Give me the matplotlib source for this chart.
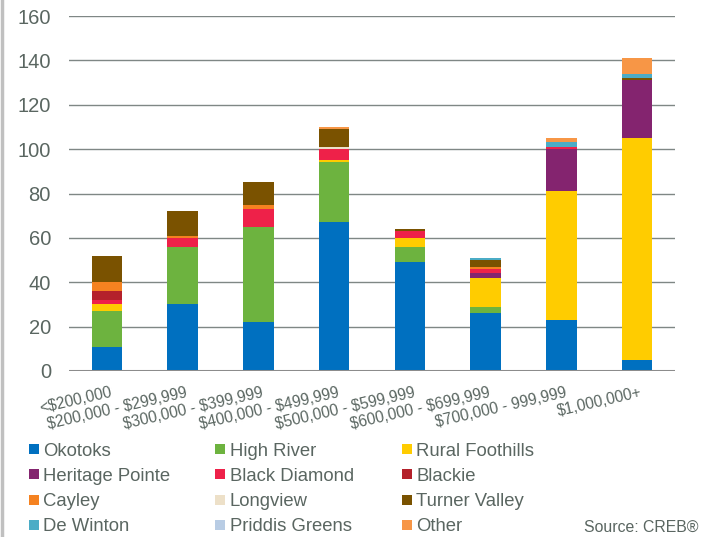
import numpy as np
import matplotlib
matplotlib.use("Agg")
import matplotlib.pyplot as plt
from matplotlib.patches import Rectangle
from matplotlib.lines import Line2D
import matplotlib.transforms as mtransforms

plt.rcParams['font.family'] = ['Liberation Sans', 'DejaVu Sans']

categories = ["<$200,000", "$200,000 - $299,999", "$300,000 - $399,999",
              "$400,000 - $499,999", "$500,000 - $599,999", "$600,000 - $699,999",
              "$700,000 - 999,999", "$1,000,000+"]

# sales by area, one list per price band order
okotoks         = [11, 30, 22, 67, 49, 26, 23, 5]
high_river      = [16, 26, 43, 27, 7, 3, 0, 0]
rural_foothills = [3, 0, 0, 1, 4, 13, 58, 100]
heritage_pointe = [0, 0, 0, 0, 0, 2, 19, 26]
black_diamond   = [2, 4, 8, 5, 3, 2, 1, 0]
blackie         = [4, 0, 0, 0, 0, 0, 0, 0]
cayley          = [4, 1, 2, 0, 0, 1, 0, 0]
longview        = [0, 0, 0, 1, 0, 0, 0, 0]
turner_valley   = [12, 11, 10, 8, 1, 3, 0, 1]
de_winton       = [0, 0, 0, 0, 0, 1, 2, 2]
priddis_greens  = [0, 0, 0, 0, 0, 0, 0, 0]
other           = [0, 0, 0, 1, 0, 0, 2, 7]

series_names = ["Okotoks", "High River", "Rural Foothills", "Heritage Pointe",
                "Black Diamond", "Blackie", "Cayley", "Longview", "Turner Valley",
                "De Winton", "Priddis Greens", "Other"]
series = [okotoks, high_river, rural_foothills, heritage_pointe, black_diamond,
          blackie, cayley, longview, turner_valley, de_winton, priddis_greens, other]
colors = ["#0070c0", "#6db33f", "#ffcc00", "#84246f", "#ee2149", "#b4212b",
          "#f58220", "#ede0c8", "#7a5200", "#4bacc6", "#b8cce4", "#f79646"]

text_col = "#5a6661"
W, H = 707, 537

fig = plt.figure(figsize=(W / 100, H / 100), dpi=100)
ax = fig.add_axes([69 / W, 1 - 371 / H, (675 - 69) / W, (371 - 16) / H])

x = np.arange(len(categories))
bottom = np.zeros(len(categories))
for name, vals, c in zip(series_names, series, colors):
    vals = np.array(vals, dtype=float)
    ax.bar(x, vals, width=0.4, bottom=bottom, color=c, edgecolor="none", label=name, zorder=3)
    bottom += vals

ax.set_xlim(-0.5, len(categories) - 0.5)
ax.set_ylim(0, 160)
ax.set_yticks(np.arange(0, 161, 20))
ax.yaxis.grid(True, color="#7f8785", linewidth=1.0, zorder=0)
ax.axhline(0, color="#8c8c8c", linewidth=2.2, zorder=4)
for s in ax.spines.values():
    s.set_visible(False)
ax.tick_params(axis="y", length=0, pad=13, labelsize=14.5, labelcolor=text_col)
ax.tick_params(axis="x", length=0, pad=10, labelsize=11.2, labelcolor=text_col)

ax.set_xticks(x)
ax.set_xticklabels(categories, rotation=13, ha="right", rotation_mode="anchor",
                   parse_math=False)
offset = mtransforms.ScaledTranslation(3 / 100, 0, fig.dpi_scale_trans)
for lbl in ax.get_xticklabels():
    lbl.set_transform(lbl.get_transform() + offset)

# legend, laid out row by row like the original
for i, (name, c) in enumerate(zip(series_names, colors)):
    row, col = i // 3, i % 3
    yc = 449 + row * 25.3
    x0 = 29 + col * 186.5
    fig.add_artist(Rectangle((x0 / W, 1 - (yc + 5) / H), 10 / W, 10 / H,
                             transform=fig.transFigure, color=c, lw=0))
    fig.text((x0 + 14) / W, 1 - (yc + 2) / H, name, ha="left", va="center",
             fontsize=13.3, color=text_col)

fig.text(698 / W, 1 - 527 / H, "Source: CREB®", ha="right", va="center",
         fontsize=11.4, color=text_col)

# light frame line on the left edge
fig.add_artist(Line2D([1.5 / W, 1.5 / W], [0, 1], transform=fig.transFigure,
                      color="#c0c0c0", linewidth=2.5))

fig.savefig("out.png", dpi=100)
